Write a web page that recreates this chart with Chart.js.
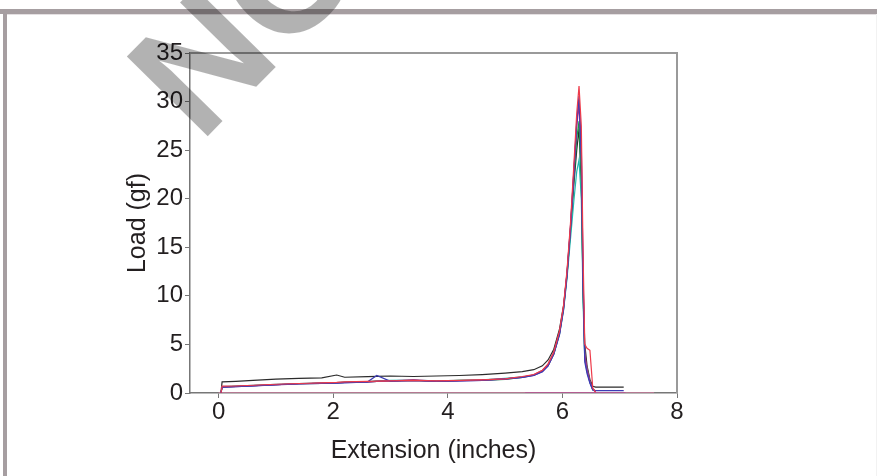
<!DOCTYPE html>
<html>
<head>
<meta charset="utf-8">
<script src="https://cdn.jsdelivr.net/npm/chart.js@4/dist/chart.umd.min.js"></script>
<style>
  html, body { margin: 0; padding: 0; background: #ffffff; }
  #wrap { width: 877px; height: 476px; position: relative; }
</style>
</head>
<body>
<div id="wrap"><canvas id="c" width="877" height="476"></canvas></div>
<script>
// ---- data ----
const extension = [0.04, 0.06, 0.3, 0.6, 1.0, 1.4, 1.8, 2.06, 2.2, 2.6, 2.76, 3.0, 3.4, 3.8, 4.2, 4.6, 5.0, 5.3, 5.5, 5.65, 5.75, 5.85, 5.95, 6.02, 6.08, 6.14, 6.2, 6.25, 6.29, 6.33, 6.36, 6.39, 6.43, 6.48, 6.53, 6.58];

const loadBlack   = [0, 1.15, 1.2, 1.3, 1.42, 1.5, 1.55, 1.85, 1.62, 1.68, 1.72, 1.75, 1.7, 1.75, 1.8, 1.9, 2.05, 2.2, 2.4, 2.8, 3.4, 4.5, 6.6, 9.0, 12.2, 16.5, 21.5, 25.0, 27.2, 21.5, 11.0, 5.0, 2.8, 1.4, 0.7, 0.6];
const loadRed     = [0, 0.7, 0.72, 0.8, 0.9, 0.98, 1.05, 1.1, 1.15, 1.2, 1.22, 1.25, 1.3, 1.25, 1.3, 1.35, 1.45, 1.7, 1.9, 2.35, 3.0, 4.2, 6.4, 9.0, 12.6, 17.4, 23.5, 28.8, 31.6, 27.5, 14.5, 5.0, 4.6, 4.4, 0.5, 0.1];
const loadBlue    = [0, 0.6, 0.65, 0.72, 0.85, 0.95, 1.0, 1.02, 1.05, 1.15, 1.8, 1.2, 1.3, 1.2, 1.25, 1.3, 1.45, 1.6, 1.8, 2.2, 2.8, 4.0, 6.0, 8.6, 12.0, 16.8, 22.5, 27.8, 30.6, 24.0, 11.0, 3.2, 2.0, 1.0, 0.3, 0.25];
const loadGreen   = [0, 0.6, 0.68, 0.75, 0.85, 0.95, 1.0, 1.05, 1.1, 1.15, 1.2, 1.25, 1.3, 1.2, 1.3, 1.3, 1.4, 1.6, 1.85, 2.3, 2.9, 4.1, 6.2, 8.8, 12.2, 16.8, 22.0, 26.2, 28.0, 22.0, 10.5, 3.8, 2.6, 1.2, 0.4, 0.2];
const loadTeal    = [0, 0.65, 0.7, 0.78, 0.88, 0.97, 1.05, 1.08, 1.12, 1.18, 1.25, 1.3, 1.32, 1.25, 1.3, 1.35, 1.5, 1.65, 1.85, 2.25, 2.85, 4.0, 6.1, 8.5, 11.8, 15.8, 19.8, 22.8, 24.0, 20.0, 9.5, 3.5, 2.2, 1.1, 0.3, 0.2];
const loadMagenta = [0, 0.62, 0.68, 0.75, 0.86, 0.95, 1.02, 1.06, 1.1, 1.15, 1.2, 1.25, 1.35, 1.22, 1.28, 1.35, 1.45, 1.65, 1.88, 2.3, 2.95, 4.2, 6.3, 8.9, 12.4, 17.0, 22.8, 27.5, 29.6, 25.0, 12.5, 4.0, 2.5, 1.2, 0.4, 0.1];
const loadPurple  = [0, 0.6, 0.66, 0.74, 0.84, 0.93, 1.0, 1.04, 1.08, 1.12, 1.2, 1.22, 1.28, 1.2, 1.25, 1.3, 1.42, 1.6, 1.82, 2.2, 2.8, 4.0, 6.1, 8.7, 12.3, 17.1, 22.9, 28.0, 30.2, 25.5, 12.0, 3.6, 2.3, 1.1, 0.35, 0.15];

const tailBlackX = [7.07];  const tailBlackY = [0.6];
const tailBlueX  = [7.07];  const tailBlueY  = [0.25];

const zeroPinkX    = [0.0, 7.6];  const zeroPinkY    = [0, 0];
const zeroMagentaX = [5.35, 7.1]; const zeroMagentaY = [0, 0];

const xTicks = [0, 2, 4, 6, 8];
const yTicks = [0, 5, 10, 15, 20, 25, 30, 35];

// ---- helpers ----
function pts(xs, ys, tx, ty) {
  const out = xs.map((x, i) => ({x: x, y: ys[i]}));
  if (tx) tx.forEach((x, i) => out.push({x: x, y: ty[i]}));
  return out;
}
function ds(data, color) {
  return { data: data, borderColor: color, borderWidth: 1.2, pointRadius: 0, tension: 0, fill: false };
}

const frame = {
  id: 'frame',
  beforeDraw(chart) {
    const ctx = chart.ctx;
    ctx.save();
    ctx.fillStyle = '#ffffff';
    ctx.fillRect(0, 0, chart.width, chart.height);
    ctx.fillStyle = '#a69ea1';
    ctx.fillRect(0, 9, 877, 5);
    ctx.fillRect(3, 9, 4, 467);
    ctx.fillStyle = '#e4e0e2';
    ctx.fillRect(7, 14, 870, 1);
    ctx.fillStyle = '#f2f2f2';
    ctx.fillRect(876, 14, 1, 462);
    ctx.restore();
  },
  afterDatasetsDraw(chart) {
    const a = chart.chartArea, ctx = chart.ctx;
    ctx.save();
    ctx.strokeStyle = '#9a9a9a';
    ctx.lineWidth = 2;
    ctx.beginPath();
    ctx.moveTo(a.left, a.top);
    ctx.lineTo(a.right, a.top);
    ctx.lineTo(a.right, a.bottom);
    ctx.stroke();
    ctx.restore();
  },
  afterDraw(chart) {
    const ctx = chart.ctx;
    ctx.save();
    ctx.translate(200, 144);
    ctx.rotate(-45.5 * Math.PI / 180);
    ctx.font = 'bold 165px "Liberation Sans", Arial, sans-serif';
    ctx.fillStyle = 'rgba(0,0,0,0.3)';
    ctx.textBaseline = 'alphabetic';
    ctx.textAlign = 'left';
    ctx.fillText('NO', 0, 0);
    ctx.restore();
  }
};

new Chart(document.getElementById('c'), {
  type: 'line',
  data: {
    datasets: [
      ds(pts(extension, loadRed), '#ee3b4a'),
      ds(pts(extension, loadBlue, tailBlueX, tailBlueY), '#3c3cb4'),
      ds(pts(extension, loadPurple), '#7b3fa0'),
      ds(pts(extension, loadMagenta), '#c8207e'),
      ds(pts(extension, loadGreen), '#12a04c'),
      ds(pts(extension, loadTeal), '#21b8b0'),
      ds(pts(extension, loadBlack, tailBlackX, tailBlackY), '#2b2b2b'),
      ds(pts(zeroMagentaX, zeroMagentaY), '#b04090'),
      ds(pts(zeroPinkX, zeroPinkY), '#f27aab')
    ]
  },
  options: {
    responsive: false,
    animation: false,
    layout: { padding: { top: 53, right: 200, left: 0, bottom: 0 } },
    plugins: { legend: { display: false }, tooltip: { enabled: false } },
    scales: {
      x: {
        type: 'linear',
        min: -0.5, max: 8,
        afterBuildTicks: (s) => { s.ticks = xTicks.map(v => ({value: v})); },
        afterFit: (s) => { s.height = 83; },
        grid: { display: true, drawOnChartArea: false, drawTicks: true, tickLength: 5, tickColor: '#777777' },
        border: { display: true, color: '#777777', width: 1.5 },
        ticks: { color: '#231f20', font: { family: '"Liberation Sans", Arial, sans-serif', size: 24 }, padding: 0, maxRotation: 0 },
        title: { display: true, text: 'Extension (inches)', color: '#231f20', font: { family: '"Liberation Sans", Arial, sans-serif', size: 25 }, padding: { top: 0, bottom: 10 } }
      },
      y: {
        type: 'linear',
        min: 0, max: 35,
        afterBuildTicks: (s) => { s.ticks = yTicks.map(v => ({value: v})); },
        afterFit: (s) => { s.width = 190; },
        grid: { display: true, drawOnChartArea: false, drawTicks: true, tickLength: 5, tickColor: '#777777' },
        border: { display: true, color: '#777777', width: 1.5 },
        ticks: { color: '#231f20', font: { family: '"Liberation Sans", Arial, sans-serif', size: 24 }, padding: 2 },
        title: { display: true, text: 'Load (gf)', color: '#231f20', font: { family: '"Liberation Sans", Arial, sans-serif', size: 25 }, padding: { top: 123, bottom: 0 } }
      }
    }
  },
  plugins: [frame]
});
</script>
</body>
</html>
